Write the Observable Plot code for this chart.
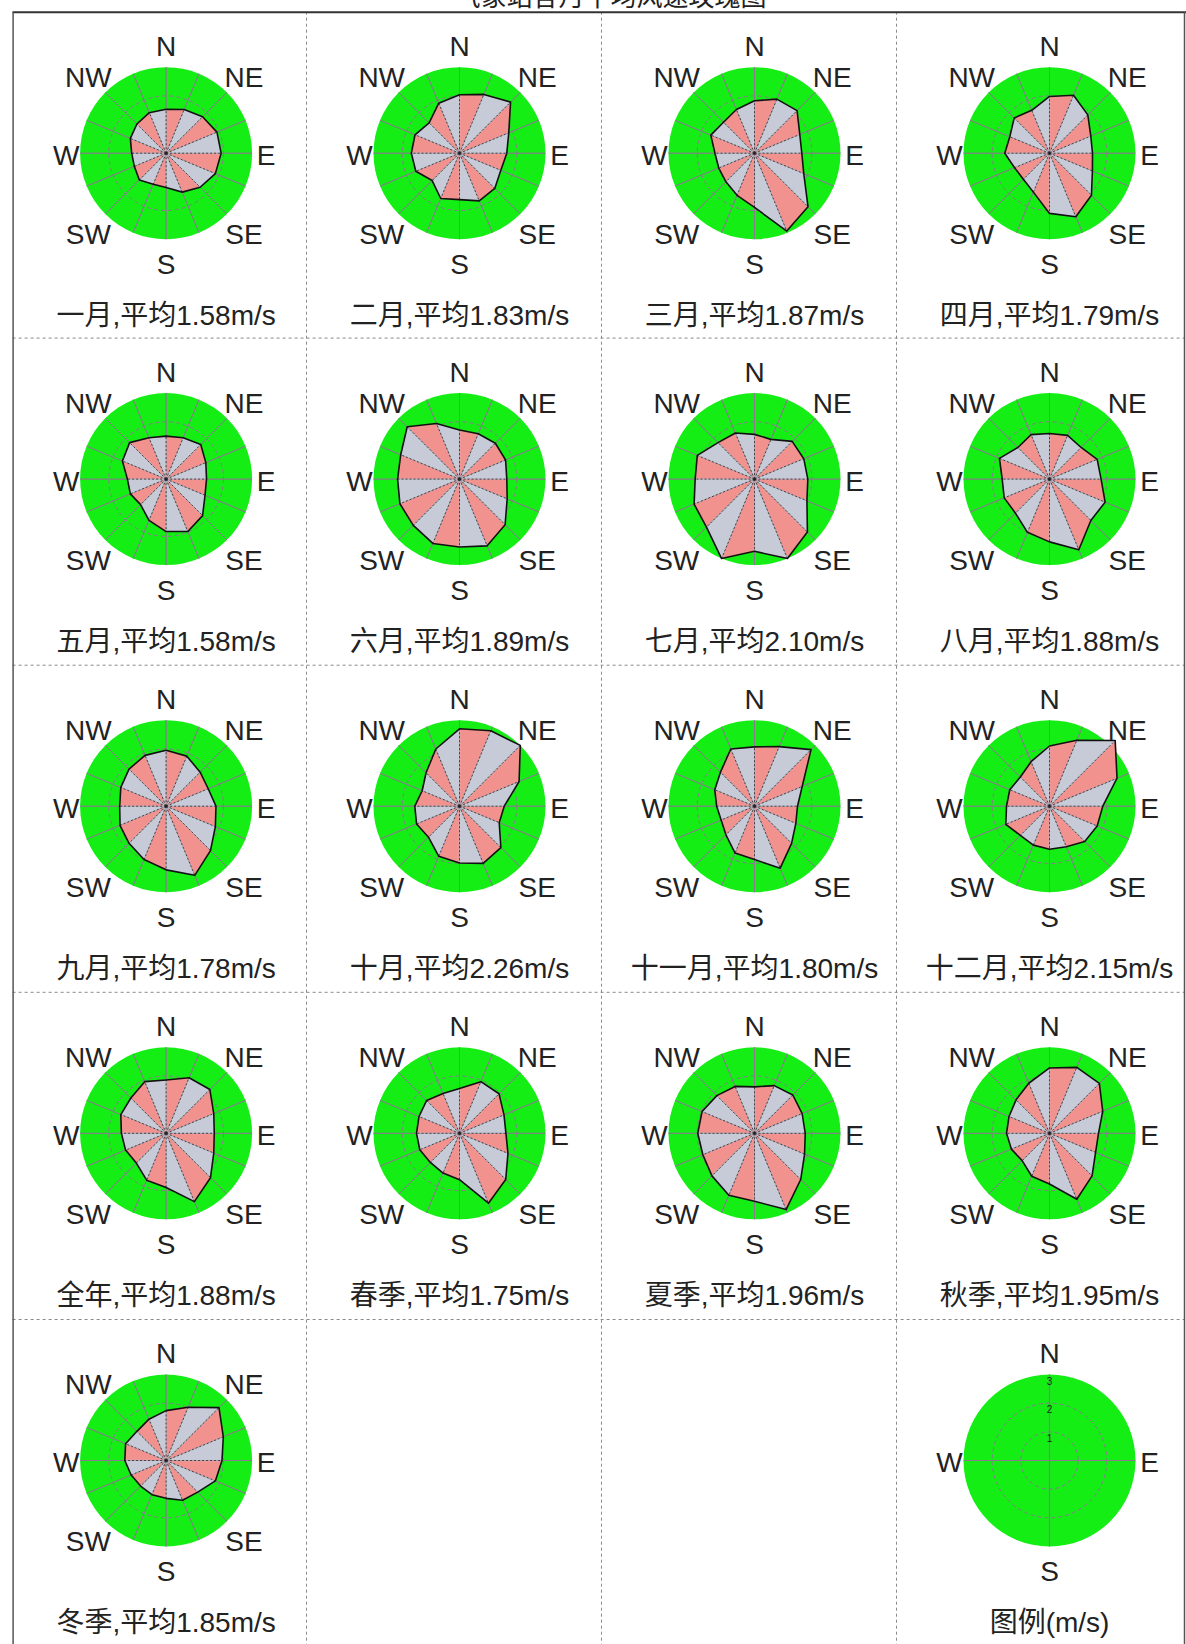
<!DOCTYPE html>
<html><head><meta charset="utf-8">
<script src="https://cdn.jsdelivr.net/npm/d3@7"></script>
<script src="https://cdn.jsdelivr.net/npm/@observablehq/plot@0.6"></script>
<style>html,body{margin:0;padding:0;background:#fff;} #chart svg{display:block;overflow:visible;}</style>
</head><body><div id="chart"></div>
<script>
// ---------- data ----------
const directions = ["N","NNE","NE","ENE","E","ESE","SE","SSE","S","SSW","SW","WSW","W","WNW","NW","NNW"];
// mean wind speed (m/s) per direction, read from each rose
const jan    = [1.53,1.65,1.80,1.92,1.92,1.86,1.68,1.47,1.20,1.17,1.32,1.20,1.20,1.35,1.44,1.53];
const feb    = [2.04,2.22,2.52,1.86,1.65,1.56,1.74,1.80,1.62,1.71,1.35,1.65,1.68,1.68,1.50,1.89];
const mar    = [1.83,2.04,2.10,1.71,1.65,1.86,2.64,2.94,1.89,1.59,1.41,1.35,1.38,1.65,1.53,1.65];
const apr    = [1.98,2.19,1.89,1.56,1.50,1.62,2.07,2.40,2.10,1.47,1.29,1.32,1.56,1.50,1.74,1.62];
const may    = [1.50,1.56,1.71,1.50,1.41,1.47,1.80,1.98,1.83,1.56,1.26,1.35,1.35,1.65,1.80,1.56];
const jun    = [1.71,1.71,1.77,1.74,1.65,1.80,2.25,2.52,2.37,2.43,2.28,2.25,2.16,2.22,2.58,2.10];
const jul    = [1.56,1.50,1.86,1.86,1.86,1.98,2.61,3.00,2.52,3.00,2.37,2.28,2.07,2.16,1.80,1.74];
const aug    = [1.59,1.65,1.56,1.80,1.80,2.10,2.04,2.67,2.19,2.01,1.68,1.71,1.65,1.89,1.56,1.68];
const sep    = [1.95,1.89,1.68,1.59,1.74,1.86,2.19,2.61,2.22,2.01,1.83,1.74,1.62,1.71,1.83,1.92];
const oct    = [2.70,2.85,3.00,2.25,1.56,1.50,2.04,2.16,1.98,1.89,1.53,1.62,1.56,1.41,1.65,2.16];
const nov    = [2.07,2.25,2.79,1.80,1.50,1.56,1.83,2.34,1.86,1.77,1.41,1.26,1.32,1.50,1.68,2.16];
const dec    = [2.10,2.49,3.24,2.55,1.86,1.80,1.74,1.53,1.50,1.47,1.44,1.65,1.50,1.50,1.44,1.68];
const annual = [1.86,2.10,2.16,1.80,1.68,1.80,2.19,2.58,1.89,1.77,1.47,1.53,1.56,1.71,1.74,1.95];
const spring = [1.56,1.95,1.95,1.68,1.62,1.83,2.28,2.64,1.62,1.50,1.44,1.50,1.50,1.53,1.62,1.50];
const summer = [1.62,1.80,1.89,1.80,1.77,1.89,2.28,2.88,2.37,2.34,2.10,1.95,1.98,1.98,1.86,1.77];
const autumn = [2.28,2.49,2.46,2.01,1.71,1.74,2.10,2.49,1.77,1.62,1.35,1.44,1.50,1.53,1.65,1.89];
const winter = [1.74,2.01,2.61,2.16,1.95,1.86,1.56,1.50,1.32,1.29,1.26,1.32,1.44,1.53,1.44,1.56];
const captions = [
  "一月,平均1.58m/s","二月,平均1.83m/s","三月,平均1.87m/s","四月,平均1.79m/s",
  "五月,平均1.58m/s","六月,平均1.89m/s","七月,平均2.10m/s","八月,平均1.88m/s",
  "九月,平均1.78m/s","十月,平均2.26m/s","十一月,平均1.80m/s","十二月,平均2.15m/s",
  "全年,平均1.88m/s","春季,平均1.75m/s","夏季,平均1.96m/s","秋季,平均1.95m/s",
  "冬季,平均1.85m/s"
];
const legendCaption = "图例(m/s)";
const ringValues = [1, 2];
const legendTicks = [1, 2, 3];
const maxSpeed = 3;
const title = "气象站各月平均风速玫瑰图";

// ---------- layout ----------
const W = 1186, H = 1644;
const RPX = 86, K = RPX / maxSpeed;
const cellX = [12.6, 306, 601, 896];
const cellY = [11.7, 337.6, 664.7, 991.8, 1319];
const CX_OFF = 153, CY_OFF = 141;
const GREEN = "#14ee14", PINK = "#f2928e", GREY = "#c6cbd7", GRID = "#8d7890";
const FONT = "'Liberation Sans', Arial, 'Noto Sans CJK SC', sans-serif";

const series = [jan,feb,mar,apr,may,jun,jul,aug,sep,oct,nov,dec,annual,spring,summer,autumn,winter];
const roses = series.map((vals, i) => {
  const col = i % 4, row = Math.floor(i / 4);
  return {i, cx: cellX[col] + CX_OFF, cy: cellY[row] + CY_OFF, vals, caption: captions[i]};
});
const legend = {i: "L", cx: cellX[3] + CX_OFF, cy: cellY[4] + CY_OFF, caption: legendCaption};
const discs = [...roses, legend];

const ang = j => j * Math.PI / 8;
const pt = (c, v, j) => ({x: c.cx + v * K * Math.sin(ang(j)), y: c.cy - v * K * Math.cos(ang(j))});

const verts = roses.flatMap(r => r.vals.map((v, j) => ({rose: r.i, cx: r.cx, cy: r.cy, ...pt(r, v, j)})));
const tris = roses.flatMap(r => directions.flatMap((d, j) => {
  const a = pt(r, r.vals[j], j), b = pt(r, r.vals[(j + 1) % 16], j + 1);
  const id = r.i + "-" + j, k = j % 2;
  return [{id, k, x: r.cx, y: r.cy}, {id, k, ...a}, {id, k, ...b}];
}));
const trisPink = tris.filter(d => d.k === 0);
const trisGrey = tris.filter(d => d.k === 1);

const spokes = roses.flatMap(r => directions.map((d, j) => ({cx: r.cx, cy: r.cy, ...pt(r, maxSpeed, j)})));
const legendSpokes = [0, 4, 8, 12].map(j => ({cx: legend.cx, cy: legend.cy, ...pt(legend, maxSpeed, j)}));
const rings = discs.flatMap(c => ringValues.map(v => ({cx: c.cx, cy: c.cy, v})));

const labelDirs = [0, 2, 4, 6, 8, 10, 12, 14];
const mkLabel = (c, j) => {
  const diag = j % 4 === 2, t = ang(j);
  return {text: directions[j], x: c.cx + Math.sin(t) * (diag ? 110 : 100), y: c.cy - Math.cos(t) * (diag ? 111 : 109) + 3};
};
const labels = [...roses.flatMap(r => labelDirs.map(j => mkLabel(r, j))), ...[0, 4, 8, 12].map(j => mkLabel(legend, j))];
const tickLabels = legendTicks.map(v => ({text: String(v), x: legend.cx, y: legend.cy - v * K + 7}));

const vLines = cellX.slice(1), hLines = cellY.slice(1);

const chart = Plot.plot({
  width: W, height: H, margin: 0,
  x: {domain: [0, W], range: [0, W], axis: null},
  y: {domain: [0, H], range: [0, H], axis: null},
  r: {type: "identity"},
  style: {background: "#fff", fontFamily: FONT, overflow: "visible"},
  marks: [
    // frame & separators
    Plot.ruleX(vLines, {y1: cellY[0], y2: H, stroke: "#8a8a8a", strokeDasharray: "3,3", strokeWidth: 1}),
    Plot.ruleY(hLines, {x1: cellX[0], x2: W - 2, stroke: "#8a8a8a", strokeDasharray: "3,3", strokeWidth: 1}),
    Plot.ruleY([cellY[0]], {x1: cellX[0], x2: W, stroke: "#333", strokeWidth: 2}),
    Plot.ruleX([cellX[0], W - 2], {y1: cellY[0], y2: H, stroke: "#555", strokeWidth: 1.5}),
    Plot.text([title], {x: 610, y: -3, text: d => d, fontSize: 26, fill: "#222", fontFamily: "'Noto Sans CJK SC', sans-serif"}),
    // green discs
    Plot.dot(discs, {x: "cx", y: "cy", r: () => maxSpeed * K, fill: GREEN, stroke: "none"}),
    Plot.dot(rings, {x: "cx", y: "cy", r: d => d.v * K, fill: "none", stroke: GRID, strokeWidth: 1, strokeDasharray: "4,3"}),
    Plot.link(spokes, {x1: "cx", y1: "cy", x2: "x", y2: "y", stroke: GRID, strokeWidth: 1}),
    Plot.link(legendSpokes, {x1: "cx", y1: "cy", x2: "x", y2: "y", stroke: GRID, strokeWidth: 1.2}),
    // rose sectors
    Plot.line(trisPink, {x: "x", y: "y", z: "id", fill: PINK, stroke: PINK, strokeWidth: 0.5, curve: "linear-closed"}),
    Plot.line(trisGrey, {x: "x", y: "y", z: "id", fill: GREY, stroke: GREY, strokeWidth: 0.5, curve: "linear-closed"}),
    Plot.link(spokes, {x1: "cx", y1: "cy", x2: "x", y2: "y", stroke: GRID, strokeWidth: 0.8, strokeOpacity: 0.5}),
    Plot.link(verts, {x1: "cx", y1: "cy", x2: "x", y2: "y", stroke: "#222", strokeWidth: 1, strokeDasharray: "2,2", strokeOpacity: 0.75}),
    Plot.line(verts, {x: "x", y: "y", z: "rose", stroke: "#111", strokeWidth: 1.6, curve: "linear-closed"}),
    // labels
    Plot.text(labels, {x: "x", y: "y", text: "text", fontSize: 28, fill: "#222", textAnchor: "middle"}),
    Plot.text(tickLabels, {x: "x", y: "y", text: "text", fontSize: 10, fill: "#222"}),
    Plot.text(discs, {x: "cx", y: d => d.cy + 163, text: "caption", fontSize: 28, fill: "#222", textAnchor: "middle"})
  ]
});
document.getElementById("chart").appendChild(chart);
</script>
</body></html>
